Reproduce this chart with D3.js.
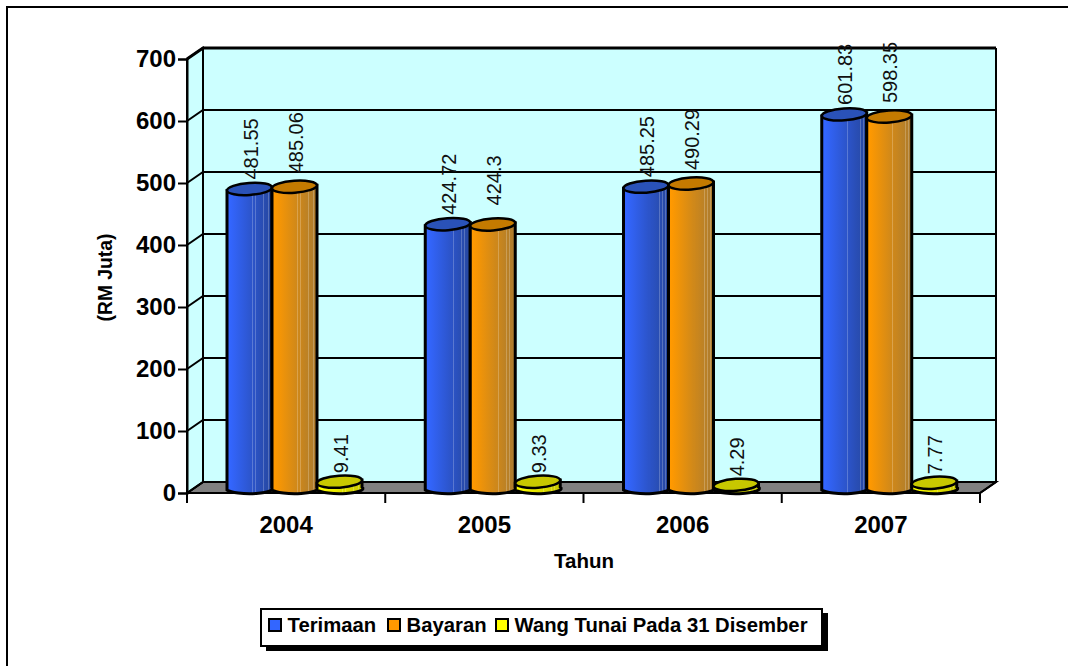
<!DOCTYPE html>
<html lang="en">

<head>
    <meta charset="UTF-8">
    <title>Terimaan dan Bayaran</title>
    <script src="https://d3js.org/d3.v7.min.js"></script>
    <style>
        html, body { margin: 0; padding: 0; background: #fff; }
        svg { display: block; }
        text { font-family: "Liberation Sans", Arial, sans-serif; fill: #000; }
    </style>
</head>

<body>
    <script type="text/javascript">

        const years = ["2004", "2005", "2006", "2007"];
        const seriesNames = ["Terimaan", "Bayaran", "Wang Tunai Pada 31 Disember"];
        const terimaan = [481.55, 424.72, 485.25, 601.83];
        const bayaran = [485.06, 424.3, 490.29, 598.35];
        const wangTunai = [9.41, 9.33, 4.29, 7.77];
        const yTicks = [0, 100, 200, 300, 400, 500, 600, 700];

        const seriesValues = [terimaan, bayaran, wangTunai];
        // base, shade for the cap, dark end of the body gradient
        const baseColors = ["#3366ff", "#ff9900", "#ffff00"];
        const capColors = ["#2a52b8", "#c47a00", "#c8c800"];
        const darkColors = ["#26469c", "#a87a30", "#c8c800"];
        // label centre sits this far above the cap, per series
        const labelGap = [34, 38, 22];
        // where the body gradient shows its pale stripes (percent)
        const stripes = [55, 61, 78, 84, 90];

        const w = 1068;
        const h = 666;
        const depthX = 16;
        const depthY = -11;
        const capRy = 6;

        const x = d3.scaleBand().domain(years).range([187, 980]);
        const xInner = d3.scaleBand().domain(d3.range(3)).range([40, 175]);
        const y = d3.scaleLinear().domain([0, 700]).range([493, 59]);

        const svg = d3.select("body").append("svg")
            .attr("width", w)
            .attr("height", h);

        const defs = svg.append("defs");
        baseColors.forEach((c, i) => {
            const mix = d3.interpolateRgb(c, darkColors[i]);
            const grad = defs.append("linearGradient").attr("id", "body" + i);
            grad.append("stop").attr("offset", "0%").attr("stop-color", mix(0));
            grad.append("stop").attr("offset", "6%").attr("stop-color", mix(0));
            stripes.forEach(s => {
                const t = s / 100;
                grad.append("stop").attr("offset", s + "%").attr("stop-color", mix(t));
                grad.append("stop").attr("offset", s + "%").attr("stop-color", d3.interpolateRgb(mix(t), "#fff")(0.22));
                grad.append("stop").attr("offset", (s + 1.5) + "%").attr("stop-color", d3.interpolateRgb(mix(t), "#fff")(0.22));
                grad.append("stop").attr("offset", (s + 1.5) + "%").attr("stop-color", mix(t));
            });
            grad.append("stop").attr("offset", "100%").attr("stop-color", mix(1));
        });

        // page frame, only top and left show in the picture
        svg.append("path")
            .attr("d", "M7,666V7H" + w)
            .attr("fill", "none")
            .attr("stroke", "#000")
            .attr("stroke-width", 2);

        // walls
        const left = x.range()[0];
        const right = x.range()[1];
        const y0 = y(0);
        const yTop = y(700);
        const walls = svg.append("g");

        walls.append("path")
            .attr("d", `M${left},${y0}L${left + depthX},${y0 + depthY}H${right + depthX}L${right},${y0}Z`)
            .attr("fill", "#808080")
            .attr("stroke", "#000")
            .attr("stroke-width", 2);

        walls.append("path")
            .attr("d", `M${left},${yTop}L${left + depthX},${yTop + depthY}V${y0 + depthY}L${left},${y0}Z`)
            .attr("fill", "#ccffff")
            .attr("stroke", "#000")
            .attr("stroke-width", 2);

        walls.append("rect")
            .attr("x", left + depthX)
            .attr("y", yTop + depthY)
            .attr("width", right - left)
            .attr("height", y0 - yTop)
            .attr("fill", "#ccffff");

        // gridlines, running along the side wall and across the back
        walls.selectAll(".grid")
            .data(yTicks)
            .enter()
            .append("path")
            .attr("class", "grid")
            .attr("d", d => `M${left},${y(d)}L${left + depthX},${y(d) + depthY}H${right + depthX}`)
            .attr("fill", "none")
            .attr("stroke", "#000")
            .attr("stroke-width", d => d === 700 ? 3 : 2);

        walls.append("path")
            .attr("d", `M${left + depthX},${yTop + depthY}V${y0 + depthY}`)
            .attr("stroke", "#000")
            .attr("stroke-width", 2);

        walls.append("path")
            .attr("d", `M${right + depthX},${yTop + depthY}V${y0 + depthY}L${right},${y0}`)
            .attr("fill", "none")
            .attr("stroke", "#000")
            .attr("stroke-width", 2);

        // y axis
        const yAxis = d3.axisLeft(y).tickValues(yTicks).tickSize(9).tickPadding(2).tickFormat(d3.format("d"));
        const yG = svg.append("g")
            .attr("transform", "translate(" + left + ",0)")
            .call(yAxis);
        yG.select(".domain").attr("stroke", "#000").attr("stroke-width", 2);
        yG.selectAll(".tick line").attr("stroke", "#000").attr("stroke-width", 2);
        yG.selectAll("text")
            .style("font-size", "24px")
            .style("font-weight", "bold")
            .style("font-family", '"Liberation Sans", Arial, sans-serif');

        // x axis, ticks on the band edges
        const xEdges = years.map(d => x(d)).concat([right]);
        svg.append("path")
            .attr("d", `M${left},${y0}H${right}`)
            .attr("stroke", "#000")
            .attr("stroke-width", 2);
        svg.selectAll(".xtick")
            .data(xEdges)
            .enter()
            .append("line")
            .attr("class", "xtick")
            .attr("x1", d => d)
            .attr("x2", d => d)
            .attr("y1", y0)
            .attr("y2", y0 + 10)
            .attr("stroke", "#000")
            .attr("stroke-width", 2);
        svg.selectAll(".xlabel")
            .data(years)
            .enter()
            .append("text")
            .attr("class", "xlabel")
            .attr("x", d => x(d) + x.bandwidth() / 2)
            .attr("y", 533)
            .attr("text-anchor", "middle")
            .style("font-size", "24px")
            .style("font-weight", "bold")
            .text(d => d);

        // cylinders
        const barW = xInner.bandwidth();
        const bars = svg.append("g");

        years.forEach((year, yi) => {
            seriesValues.forEach((values, si) => {
                const v = values[yi];
                const bx = x(year) + xInner(si);
                const rx = barW / 2;
                const cx = bx + rx;
                const baseY = y(0) - 3;
                const topY = y(v) - 4;
                const g = bars.append("g");
                g.append("path")
                    .attr("d", `M${bx},${topY}V${baseY}A${rx},${capRy - 1} 0 0 0 ${bx + barW},${baseY - 3}V${topY - 3}Z`)
                    .attr("fill", `url(#body${si})`)
                    .attr("stroke", "#000")
                    .attr("stroke-width", 3);
                g.append("ellipse")
                    .attr("cx", cx)
                    .attr("cy", topY - 1.5)
                    .attr("rx", rx)
                    .attr("ry", capRy)
                    .attr("transform", `rotate(-4 ${cx} ${topY - 1.5})`)
                    .attr("fill", capColors[si])
                    .attr("stroke", "#000")
                    .attr("stroke-width", 2.5);
                g.append("text")
                    .attr("transform", `translate(${cx + 8},${topY - 7.5 - labelGap[si]}) rotate(-90)`)
                    .attr("text-anchor", "middle")
                    .style("font-size", "20px")
                    .style("fill", "#111")
                    .text(v);
            });
        });

        // axis titles
        svg.append("text")
            .attr("transform", "translate(112,277.5) rotate(-90)")
            .attr("text-anchor", "middle")
            .style("font-size", "19.3px")
            .style("font-weight", "bold")
            .text("(RM Juta)");

        svg.append("text")
            .attr("x", 584)
            .attr("y", 568)
            .attr("text-anchor", "middle")
            .style("font-size", "20.5px")
            .style("font-weight", "bold")
            .text("Tahun");

        // legend
        const legend = svg.append("g");
        legend.append("rect").attr("x", 266).attr("y", 613).attr("width", 562).attr("height", 38).attr("fill", "#000");
        legend.append("rect").attr("x", 261).attr("y", 609).attr("width", 561).attr("height", 37)
            .attr("fill", "#fff").attr("stroke", "#000").attr("stroke-width", 2);

        const legendX = [269, 388, 496];
        const legendItems = legend.selectAll(".item")
            .data(seriesNames)
            .enter()
            .append("g")
            .attr("class", "item")
            .attr("transform", (d, i) => "translate(" + legendX[i] + ",619)");
        legendItems.append("rect")
            .attr("width", 12)
            .attr("height", 12)
            .attr("fill", (d, i) => baseColors[i])
            .attr("stroke", "#000")
            .attr("stroke-width", 2);
        legendItems.append("text")
            .attr("x", 18.5)
            .attr("y", 13)
            .style("font-size", "20.3px")
            .style("font-weight", "bold")
            .text(d => d);

    </script>
</body>

</html>
